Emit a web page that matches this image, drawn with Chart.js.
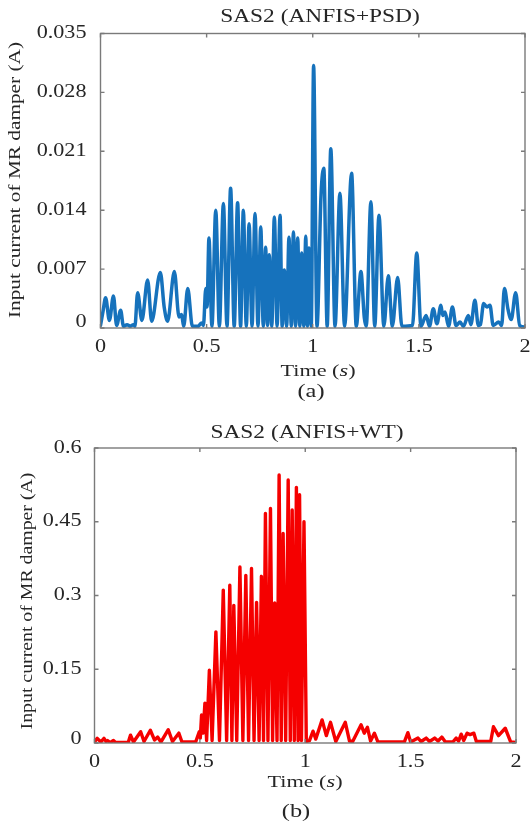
<!DOCTYPE html>
<html>
<head>
<meta charset="utf-8">
<script src="https://cdn.jsdelivr.net/npm/chart.js@4/dist/chart.umd.min.js"></script>
<style>
  body { margin: 0; background: #fff; width: 531px; height: 823px; overflow: hidden; position: relative; }
  .panel { position: absolute; left: 0; width: 531px; }
</style>
</head>
<body>
<div class="panel" style="top:0;height:405px"><canvas id="psdChart" width="531" height="405"></canvas></div>
<div class="panel" style="top:405px;height:418px"><canvas id="wtChart" width="531" height="418"></canvas></div>

<script>
// ================= AXIS TICKS =================
const timeTicks = [0, 0.5, 1, 1.5, 2];
const timeTickLabels = ["0", "0.5", "1", "1.5", "2"];
const psdTicks = [0, 0.007, 0.014, 0.021, 0.028, 0.035];
const psdTickLabels = ["0", "0.007", "0.014", "0.021", "0.028", "0.035"];
const wtTicks = [0, 0.15, 0.3, 0.45, 0.6];
const wtTickLabels = ["0", "0.15", "0.3", "0.45", "0.6"];

// ================= (a) SAS2 ANFIS+PSD =================
const psdTime = [
  0, 0.012, 0.024, 0.042, 0.061, 0.076, 0.095, 0.108, 0.125, 0.14, 0.155, 0.162,
  0.175, 0.195, 0.222, 0.241, 0.282, 0.300, 0.316, 0.348, 0.370, 0.382, 0.392, 0.411,
  0.433, 0.460, 0.475, 0.485, 0.496, 0.502, 0.511, 0.525, 0.543, 0.560, 0.579, 0.596,
  0.613, 0.630, 0.646, 0.660, 0.673, 0.687, 0.700, 0.714, 0.728, 0.742, 0.755, 0.767,
  0.778, 0.787, 0.795, 0.807, 0.819, 0.832, 0.846, 0.856, 0.866, 0.877, 0.888, 0.899,
  0.909, 0.919, 0.929, 0.939, 0.948, 0.958, 0.967, 0.975, 0.982, 0.993, 1.004, 1.020,
  1.039, 1.052, 1.068, 1.085, 1.105, 1.128, 1.150, 1.183, 1.205, 1.227, 1.243, 1.252,
  1.274, 1.292, 1.312, 1.335, 1.356, 1.375, 1.400, 1.420, 1.470, 1.490, 1.510, 1.534,
  1.550, 1.568, 1.585, 1.604, 1.612, 1.623, 1.640, 1.658, 1.675, 1.694, 1.710, 1.733,
  1.745, 1.764, 1.780, 1.790, 1.805, 1.820, 1.835, 1.850, 1.876, 1.890, 1.903, 1.920,
  1.935, 1.956, 1.975, 2.000
];
const psdCurrent = [
  0.0003, 0.0020, 0.0036, 0.0009, 0.0038, 0.0003, 0.0021, 0.0002, 0.0004, 0.0002, 0.0004, 0.0002,
  0.0042, 0.0009, 0.0057, 0.0008, 0.0066, 0.0025, 0.0008, 0.0067, 0.0013, 0.0016, 0.0002, 0.0047,
  0.0002, 0.0002, 0.0006, 0.0003, 0.0047, 0.0025, 0.0107, 0.0002, 0.0140, 0.0002, 0.0148, 0.0002,
  0.0166, 0.0002, 0.0149, 0.0002, 0.0140, 0.0002, 0.0124, 0.0002, 0.0136, 0.0002, 0.0120, 0.0002,
  0.0096, 0.0003, 0.0087, 0.0002, 0.0132, 0.0002, 0.0134, 0.0002, 0.0069, 0.0002, 0.0108, 0.0002,
  0.0114, 0.0002, 0.0107, 0.0002, 0.0089, 0.0002, 0.0109, 0.0002, 0.0095, 0.0002, 0.0312, 0.0002,
  0.0158, 0.0190, 0.0002, 0.0213, 0.0002, 0.0160, 0.0002, 0.0184, 0.0002, 0.0067, 0.0012, 0.0002,
  0.0150, 0.0002, 0.0134, 0.0002, 0.0062, 0.0002, 0.0060, 0.0002, 0.0003, 0.0089, 0.0002, 0.0015,
  0.0002, 0.0023, 0.0005, 0.0027, 0.0015, 0.0019, 0.0002, 0.0025, 0.0003, 0.0007, 0.0002, 0.0015,
  0.0004, 0.0033, 0.0003, 0.0004, 0.0029, 0.0025, 0.0027, 0.0003, 0.0007, 0.0003, 0.0047, 0.0022,
  0.0010, 0.0042, 0.0003, 0.0001
];

// ================= (b) SAS2 ANFIS+WT =================
const wtTime = [
  0, 0.013, 0.030, 0.045, 0.055, 0.062, 0.075, 0.090, 0.100, 0.160, 0.171, 0.185,
  0.219, 0.235, 0.265, 0.285, 0.300, 0.315, 0.350, 0.370, 0.400, 0.415, 0.480, 0.497,
  0.502, 0.508, 0.515, 0.524, 0.532, 0.545, 0.558, 0.576, 0.593, 0.611, 0.627, 0.642,
  0.652, 0.661, 0.675, 0.690, 0.704, 0.718, 0.731, 0.745, 0.757, 0.769, 0.781, 0.792,
  0.802, 0.811, 0.823, 0.835, 0.845, 0.855, 0.866, 0.876, 0.886, 0.895, 0.907, 0.919,
  0.929, 0.938, 0.948, 0.958, 0.966, 0.973, 0.982, 0.994, 1.005, 1.020, 1.037, 1.050,
  1.080, 1.100, 1.120, 1.145, 1.190, 1.210, 1.225, 1.265, 1.280, 1.295, 1.310, 1.328,
  1.345, 1.470, 1.487, 1.500, 1.535, 1.550, 1.574, 1.590, 1.614, 1.630, 1.648, 1.665,
  1.700, 1.716, 1.728, 1.740, 1.752, 1.768, 1.782, 1.800, 1.812, 1.880, 1.893, 1.917,
  1.949, 1.975, 2.000
];
const wtCurrent = [
  0.002, 0.0095, 0.002, 0.0095, 0.003, 0.005, 0.001, 0.005, 0.001, 0.001, 0.016, 0.002,
  0.023, 0.003, 0.026, 0.006, 0.012, 0.002, 0.027, 0.003, 0.020, 0.002, 0.002, 0.023,
  0.010, 0.057, 0.020, 0.081, 0.005, 0.148, 0.005, 0.226, 0.005, 0.311, 0.005, 0.321,
  0.005, 0.280, 0.005, 0.358, 0.005, 0.341, 0.005, 0.355, 0.005, 0.286, 0.005, 0.339,
  0.005, 0.467, 0.005, 0.477, 0.005, 0.285, 0.005, 0.545, 0.005, 0.426, 0.005, 0.535,
  0.005, 0.474, 0.005, 0.520, 0.005, 0.505, 0.005, 0.450, 0.003, 0.005, 0.024, 0.008,
  0.047, 0.015, 0.042, 0.003, 0.042, 0.004, 0.003, 0.037, 0.020, 0.032, 0.004, 0.020,
  0.002, 0.002, 0.021, 0.002, 0.010, 0.003, 0.010, 0.003, 0.010, 0.004, 0.012, 0.002,
  0.002, 0.010, 0.004, 0.018, 0.005, 0.020, 0.017, 0.020, 0.003, 0.003, 0.033, 0.015,
  0.030, 0.002, 0.001
];

// ================= TEXT HELPERS =================
// the figure's serif face runs wide, so glyphs get stretched along the reading direction
function drawText(ctx, str, x, y, f, align, rot) {
  ctx.save();
  ctx.translate(x, y);
  if (rot) ctx.rotate(rot);
  ctx.scale(f.stretch, 1);
  ctx.font = `${f.size}px "Liberation Serif"`;
  ctx.textAlign = align;
  ctx.textBaseline = "middle";
  ctx.fillText(str, 0, 0);
  ctx.restore();
}

// "Time (s)" with the unit in italics
function drawRuns(ctx, runs, cx, y, f) {
  ctx.save();
  ctx.translate(cx, y);
  ctx.scale(f.stretch, 1);
  ctx.textBaseline = "middle";
  ctx.textAlign = "left";
  const fontOf = it => `${it ? "italic " : ""}${f.size}px "Liberation Serif"`;
  let total = 0;
  runs.forEach(([s, it]) => { ctx.font = fontOf(it); total += ctx.measureText(s).width; });
  let x = -total / 2;
  runs.forEach(([s, it]) => { ctx.font = fontOf(it); ctx.fillText(s, x, 0); x += ctx.measureText(s).width; });
  ctx.restore();
}

// ================= AXES BOX + LABELS PLUGIN =================
const figurePlugin = {
  id: "figure",
  afterDatasetsDraw(chart, args, o) {
    const ctx = chart.ctx;
    const xs = chart.scales.x, ys = chart.scales.y, a = chart.chartArea;
    ctx.save();

    // box with inward ticks on all four sides
    ctx.strokeStyle = "#7a7a7a";
    ctx.lineWidth = 1.4;
    ctx.strokeRect(a.left, a.top, a.right - a.left, a.bottom - a.top);
    ctx.beginPath();
    o.xTicks.forEach(v => {
      const px = xs.getPixelForValue(v);
      ctx.moveTo(px, a.bottom); ctx.lineTo(px, a.bottom - 4);
      ctx.moveTo(px, a.top); ctx.lineTo(px, a.top + 4);
    });
    o.yTicks.forEach(v => {
      const py = ys.getPixelForValue(v);
      ctx.moveTo(a.left, py); ctx.lineTo(a.left + 4, py);
      ctx.moveTo(a.right, py); ctx.lineTo(a.right - 4, py);
    });
    ctx.stroke();

    ctx.fillStyle = "#262626";
    o.xTicks.forEach((v, i) => drawText(ctx, o.xLabels[i], xs.getPixelForValue(v), a.bottom + o.xLabelGap, o.tickFont, "center"));
    o.yTicks.forEach((v, i) => {
      // the zero label sits a little above the baseline
      const py = ys.getPixelForValue(v) - (v === 0 ? o.zeroLift : 0);
      drawText(ctx, o.yLabels[i], a.left - o.yLabelGap, py, o.tickFont, "right");
    });

    drawText(ctx, o.title, o.titlePos[0], o.titlePos[1], o.titleFont, "center");
    drawRuns(ctx, [["Time (", false], ["s", true], [")", false]], o.xTitlePos[0], o.xTitlePos[1], o.labelFont);
    drawText(ctx, "Input current of MR damper (A)", o.yTitlePos[0], o.yTitlePos[1], o.yTitleFont, "center", -Math.PI / 2);
    drawText(ctx, o.caption, o.captionPos[0], o.captionPos[1], o.captionFont, "center");
    ctx.restore();
  }
};

// ================= BUILD CHART =================
function buildChart(id, times, values, look) {
  return new Chart(document.getElementById(id), {
    type: "line",
    data: {
      datasets: [{
        data: times.map((t, i) => ({ x: t, y: values[i] })),
        borderColor: look.color,
        borderWidth: look.lineWidth,
        borderJoinStyle: "round",
        borderCapStyle: "round",
        pointRadius: 0,
        tension: look.smooth ? 0.3 : 0,
        cubicInterpolationMode: look.smooth ? "monotone" : "default",
        fill: false
      }]
    },
    options: {
      responsive: false,
      animation: false,
      devicePixelRatio: 1,
      layout: { padding: look.padding },
      plugins: { legend: { display: false }, tooltip: { enabled: false }, figure: look },
      scales: {
        x: { type: "linear", min: 0, max: 2, display: false },
        y: { type: "linear", min: 0, max: look.yMax, display: false }
      }
    },
    plugins: [figurePlugin]
  });
}

buildChart("psdChart", psdTime, psdCurrent, {
  color: "#1672bc", lineWidth: 3.5, smooth: true, yMax: 0.035,
  padding: { left: 100.5, top: 33.5, right: 6, bottom: 77 },
  xTicks: timeTicks, xLabels: timeTickLabels, yTicks: psdTicks, yLabels: psdTickLabels,
  xLabelGap: 19, yLabelGap: 14, zeroLift: 6,
  tickFont: { size: 18, stretch: 1.23 },
  title: "SAS2 (ANFIS+PSD)", titlePos: [320, 17], titleFont: { size: 19, stretch: 1.23 },
  xTitlePos: [318, 371], labelFont: { size: 17.5, stretch: 1.27 },
  yTitlePos: [16, 180], yTitleFont: { size: 16.5, stretch: 1.29 },
  caption: "(a)", captionPos: [311, 392], captionFont: { size: 19, stretch: 1.28 }
});

buildChart("wtChart", wtTime, wtCurrent, {
  color: "#f50000", lineWidth: 3.4, smooth: false, yMax: 0.6,
  padding: { left: 94.5, top: 43, right: 15, bottom: 80 },
  xTicks: timeTicks, xLabels: timeTickLabels, yTicks: wtTicks, yLabels: wtTickLabels,
  xLabelGap: 19, yLabelGap: 13, zeroLift: 4,
  tickFont: { size: 18, stretch: 1.23 },
  title: "SAS2 (ANFIS+WT)", titlePos: [307, 28], titleFont: { size: 19, stretch: 1.23 },
  xTitlePos: [305, 377], labelFont: { size: 17.5, stretch: 1.27 },
  yTitlePos: [28, 196], yTitleFont: { size: 16.5, stretch: 1.2 },
  caption: "(b)", captionPos: [296, 407], captionFont: { size: 19, stretch: 1.28 }
});
</script>
</body>
</html>
